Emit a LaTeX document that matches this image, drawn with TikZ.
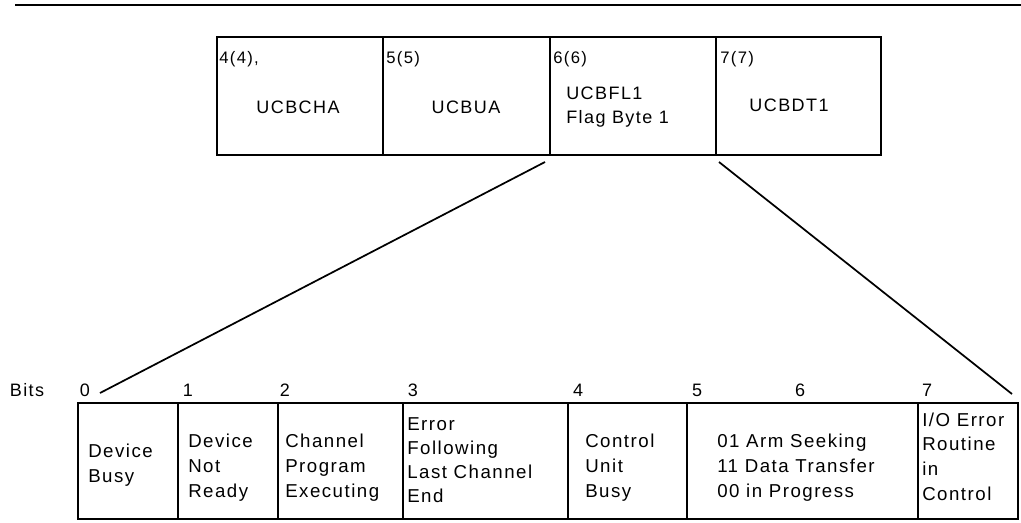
\documentclass[tikz,border=0pt]{standalone}
\usepackage{fontspec}
\setmainfont{Liberation Sans}[LetterSpace=8]
\begin{document}
\begin{tikzpicture}[x=0.75pt,y=-0.75pt,
  frame/.style={line width=2.2pt},
  divider/.style={line width=1.6pt},
  fan/.style={line width=1.3pt},
  lbl/.style={inner sep=0pt,font=\fontsize{13.5}{24}\selectfont},
  off/.style={inner sep=0pt,anchor=base west,font=\fontsize{12.5}{14}\selectfont},
  bit/.style={inner sep=0pt,anchor=base,font=\fontsize{13.5}{14}\selectfont},
  cell/.style={inner sep=0pt,anchor=base west,align=left,font=\fontsize{14}{18}\selectfont}]
\useasboundingbox (0,0) rectangle (1021,522);
% top rule
\draw[line width=1.8pt] (15,5) -- (1021,5);
% top box (UCB bytes 4-7)
\draw[frame] (217,37) rectangle (881,155);
\draw[divider] (383,37) -- (383,155);
\draw[divider] (550,37) -- (550,155);
\draw[divider] (716,37) -- (716,155);
\node[off] (o4) at (219,63) {4(4),};
\node[off] (o5) at (386,63) {5(5)};
\node[off] (o6) at (553,63) {6(6)};
\node[off] (o7) at (720,63) {7(7)};
\node[lbl] (ucbcha) at (298,107) {UCBCHA};
\node[lbl] (ucbua) at (466,107) {UCBUA};
\node[cell,font=\fontsize{13.5}{18}\selectfont] (ucbfl) at (566,99) {UCBFL1};
\node[cell,font=\fontsize{13.5}{18}\selectfont] (flag) at (566,123) {Flag Byte 1};
\node[lbl] (ucbdt) at (789,105) {UCBDT1};
% bit labels
\node[bit] (bits) at (27,396) {Bits};
\node[bit] (b0) at (85,396) {0};
\node[bit] (b1) at (188,396) {1};
\node[bit] (b2) at (285,396) {2};
\node[bit] (b3) at (413,396) {3};
\node[bit] (b4) at (578,396) {4};
\node[bit] (b5) at (697,396) {5};
\node[bit] (b6) at (800,396) {6};
\node[bit] (b7) at (927,396) {7};
% bottom box
\draw[frame] (78,403) rectangle (1018,519);
\foreach \x in {178,278,403,568,687,918} \draw[divider] (\x,403) -- (\x,519);
% fan lines
\coordinate (fl) at (545,162);
\coordinate (bl) at (100,393);
\coordinate (fr) at (719,162);
\coordinate (br) at (1012,394);
\draw[fan] (fl) -- (bl);
\draw[fan] (fr) -- (br);
% cell texts
\node[cell] (t0a) at (88,457) {Device};
\node[cell] (t0b) at (88,482) {Busy};
\node[cell] (t1a) at (188,447) {Device};
\node[cell] (t1b) at (188,472) {Not};
\node[cell] (t1c) at (188,497) {Ready};
\node[cell] (t2a) at (285,447) {Channel};
\node[cell] (t2b) at (285,472) {Program};
\node[cell] (t2c) at (285,497) {Executing};
\node[cell] (t3a) at (407,430) {Error};
\node[cell] (t3b) at (407,454) {Following};
\node[cell] (t3c) at (407,478) {Last Channel};
\node[cell] (t3d) at (407,502) {End};
\node[cell] (t4a) at (585,447) {Control};
\node[cell] (t4b) at (585,472) {Unit};
\node[cell] (t4c) at (585,497) {Busy};
\node[cell] (t5a) at (717,447) {01 Arm Seeking};
\node[cell] (t5b) at (717,472) {11 Data Transfer};
\node[cell] (t5c) at (717,497) {00 in Progress};
\node[cell] (t6a) at (922,426) {I/O Error};
\node[cell] (t6b) at (922,450) {Routine};
\node[cell] (t6c) at (922,475) {in};
\node[cell] (t6d) at (922,500) {Control};
\end{tikzpicture}
\end{document}
